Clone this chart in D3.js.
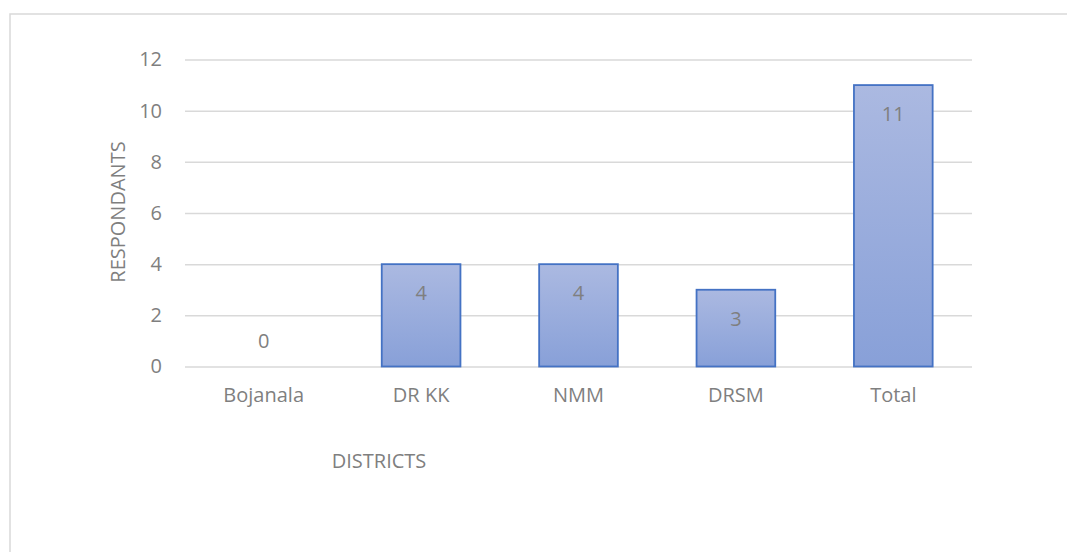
<!DOCTYPE html>
<html><head><meta charset="utf-8">
<script src="https://cdn.jsdelivr.net/npm/d3@7"></script>
<style>body{margin:0;background:#fff}svg{display:block}</style>
</head><body>
<script>
const categories = ["Bojanala", "DR KK", "NMM", "DRSM", "Total"];
const values = [0, 4, 4, 3, 11];
const yTicks = [0, 2, 4, 6, 8, 10, 12];
const yTitle = "RESPONDANTS";
const xTitle = "DISTRICTS";

(function () {
const W = 1067, H = 552;
const svg = d3.select("body").append("svg").attr("width", W).attr("height", H);
const font = "'Open Sans', 'Liberation Sans', sans-serif";
const grey = "#7f7f7f";
const fs = 20;

// outer border (extends beyond image)
svg.append("rect").attr("x", 10).attr("y", 14).attr("width", 1100).attr("height", 600)
  .attr("fill", "none").attr("stroke", "#d9d9d9").attr("stroke-width", 1.5);

const pLeft = 185, pRight = 972, pTop = 59.5, pBottom = 366.5;
const x = d3.scaleBand().domain(categories).range([pLeft, pRight]).paddingInner(0.5).paddingOuter(0.25);
const y = d3.scaleLinear().domain([0, 12]).range([pBottom, pTop]);

const defs = svg.append("defs");
const grad = defs.append("linearGradient").attr("id", "g").attr("x1", 0).attr("y1", 0).attr("x2", 0).attr("y2", 1);
grad.append("stop").attr("offset", "0%").attr("stop-color", "#abb9e1");
grad.append("stop").attr("offset", "100%").attr("stop-color", "#88a0d8");

// gridlines
const yAxis = d3.axisLeft(y).tickValues(yTicks).tickSize(-(pRight - pLeft)).tickPadding(23);
const ga = svg.append("g").attr("transform", `translate(${pLeft},0)`).call(yAxis);
ga.select(".domain").remove();
ga.selectAll(".tick line").attr("stroke", "#d9d9d9").attr("stroke-width", 1.5);
ga.selectAll(".tick text").attr("fill", grey).attr("font-family", font).attr("font-size", fs);

// bars
svg.selectAll("rect.bar").data(values).join("rect").attr("class", "bar")
  .attr("x", (d, i) => x(categories[i]))
  .attr("width", x.bandwidth())
  .attr("y", d => y(d))
  .attr("height", d => y(0) - y(d))
  .attr("fill", "url(#g)")
  .attr("stroke", d => d > 0 ? "#4472c4" : "none")
  .attr("stroke-width", 1.8);

// value labels
svg.selectAll("text.val").data(values).join("text").attr("class", "val")
  .attr("x", (d, i) => x(categories[i]) + x.bandwidth() / 2)
  .attr("y", d => d > 0 ? y(d) + 36 : y(0) - 18.5)
  .attr("text-anchor", "middle")
  .attr("fill", grey).attr("font-family", font).attr("font-size", fs)
  .text(d => d);

// x axis labels
const xAxis = d3.axisBottom(x).tickSize(0).tickPadding(21);
const xa = svg.append("g").attr("transform", `translate(0,${pBottom})`).call(xAxis);
xa.select(".domain").remove();
xa.selectAll(".tick text").attr("fill", grey).attr("font-family", font).attr("font-size", fs);

// axis titles
svg.append("text").attr("transform", `translate(125,212) rotate(-90)`)
  .attr("text-anchor", "middle").attr("fill", grey).attr("font-family", font).attr("font-size", fs)
  .text(yTitle);
svg.append("text").attr("x", 379).attr("y", 468)
  .attr("text-anchor", "middle").attr("fill", grey).attr("font-family", font).attr("font-size", fs)
  .text(xTitle);
})();
</script>
</body></html>
